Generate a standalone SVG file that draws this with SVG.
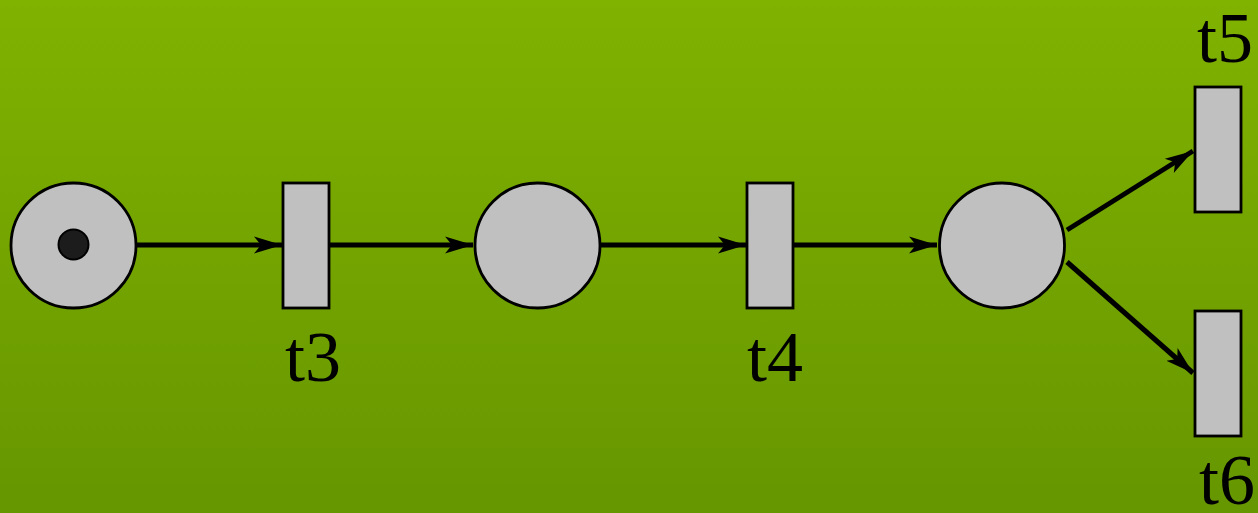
<svg xmlns="http://www.w3.org/2000/svg" width="1258" height="513" viewBox="0 0 1258 513">
<defs>
<linearGradient id="bg" x1="0" y1="0" x2="0" y2="1">
<stop offset="0" stop-color="#80b200"/>
<stop offset="1" stop-color="#669600"/>
</linearGradient>
<marker id="ah" markerUnits="userSpaceOnUse" markerWidth="30" markerHeight="20" viewBox="0 0 30 20" refX="28" refY="10" orient="auto">
<path d="M0,1.5 L28,10 L0,18.5 L7,10 z" fill="#000"/>
</marker>
<style>
.place{fill:#c0c0c0;stroke:#000;stroke-width:2.8}
.trans{fill:#c0c0c0;stroke:#000;stroke-width:2.8}
.tok{fill:#1c1c1c;stroke:#000;stroke-width:2}
.arc{stroke:#000;stroke-width:5;fill:none;marker-end:url(#ah)}
.lbl{font-family:"Liberation Serif","DejaVu Serif",serif;font-size:72px;fill:#000}
</style>
</defs>
<rect x="0" y="0" width="1258" height="513" fill="url(#bg)"/>
<g id="connectors">
<line class="arc" x1="137" y1="245" x2="282" y2="245"/>
<line class="arc" x1="329" y1="245" x2="473" y2="245"/>
<line class="arc" x1="600" y1="245" x2="746" y2="245"/>
<line class="arc" x1="793" y1="245" x2="937" y2="245"/>
<line class="arc" x1="1067" y1="230" x2="1193" y2="151"/>
<line class="arc" x1="1067" y1="262" x2="1193" y2="373"/>
</g>
<g id="p1">
<circle class="place" cx="73.5" cy="245.5" r="62.5"/>
<circle class="tok" cx="73.5" cy="244.5" r="15"/>
</g>
<g id="t3">
<rect class="trans" x="283" y="183" width="46" height="125"/>
<text class="lbl" x="285" y="381">t3</text>
</g>
<g id="p2">
<circle class="place" cx="537.5" cy="245.5" r="62.5"/>
</g>
<g id="t4">
<rect class="trans" x="747" y="183" width="46" height="125"/>
<text class="lbl" x="747" y="381">t4</text>
</g>
<g id="p3">
<circle class="place" cx="1002" cy="245.5" r="62.5"/>
</g>
<g id="t5">
<rect class="trans" x="1195" y="87" width="46" height="125"/>
<text class="lbl" x="1197" y="62">t5</text>
</g>
<g id="t6">
<rect class="trans" x="1195" y="311" width="46" height="125"/>
<text class="lbl" x="1199" y="504">t6</text>
</g>
</svg>
